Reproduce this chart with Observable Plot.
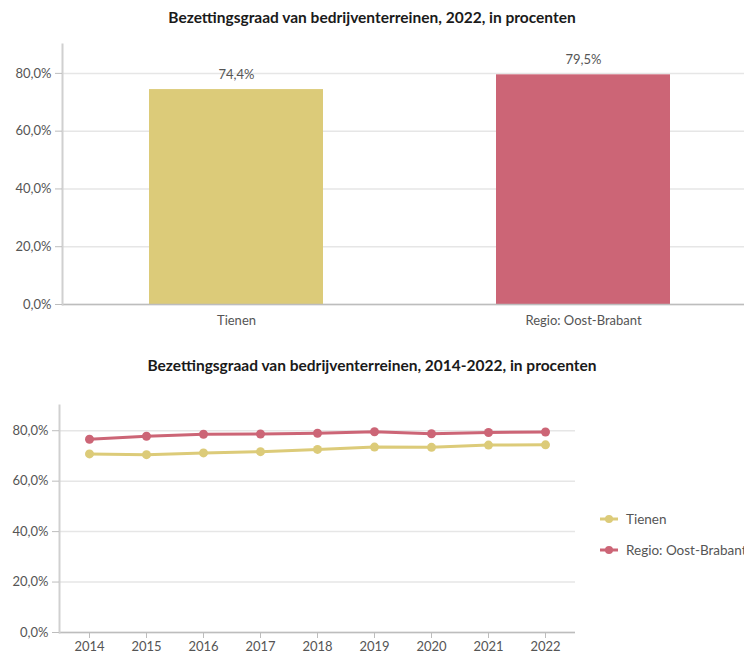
<!DOCTYPE html>
<html>
<head>
<meta charset="utf-8">
<script src="https://cdn.jsdelivr.net/npm/d3@7"></script>
<script src="https://cdn.jsdelivr.net/npm/@observablehq/plot@0.6"></script>
<style>
  html, body { margin: 0; padding: 0; background: #fff; overflow: hidden; width: 744px; height: 652px; }
  body { position: relative; font-family: Lato, "Noto Sans", sans-serif; }
  .title { position: absolute; left: 0; width: 744px; text-align: center; font-weight: bold; font-size: 15.5px; color: #1a1a1a; }
  .chart { position: absolute; left: 0; }
  .legend { position: absolute; left: 600px; font-size: 13.5px; color: #555; white-space: nowrap; }
  .legend div { height: 31px; display: flex; align-items: center; }
  .legend svg { margin-right: 8px; }
</style>
</head>
<body>
<div class="title" style="top:8px">Bezettingsgraad van bedrijventerreinen, 2022, in procenten</div>
<div class="chart" id="c1" style="top:30px"></div>
<div class="title" style="top:356px">Bezettingsgraad van bedrijventerreinen, 2014-2022, in procenten</div>
<div class="chart" id="c2" style="top:390px"></div>
<div class="legend" id="legend" style="top:503px"></div>
<script>
const regions = ["Tienen", "Regio: Oost-Brabant"];
const colors = ["#dccb79", "#cc6576"];
const values2022 = [74.4, 79.5];
const years = [2014, 2015, 2016, 2017, 2018, 2019, 2020, 2021, 2022];
const tienen = [70.8, 70.5, 71.2, 71.7, 72.6, 73.5, 73.4, 74.3, 74.4];
const oostBrabant = [76.6, 77.8, 78.6, 78.7, 79.0, 79.6, 78.8, 79.3, 79.5];
const yTicks = [0, 20, 40, 60, 80];

const fmt = d => d.toFixed(1).replace(".", ",") + "%";
const colorScale = {domain: regions, range: colors};

const bars = regions.map((r, i) => ({region: r, value: values2022[i]}));

const common = {
  style: {fontFamily: "Lato, 'Noto Sans', sans-serif", fontSize: "13px", color: "#555", background: "transparent", maxWidth: "none", overflow: "visible"}
};

const c1 = Plot.plot({
  ...common,
  width: 757, height: 304,
  marginLeft: 62, marginRight: 0, marginTop: 14, marginBottom: 30,
  x: {domain: regions, paddingInner: 0.5, paddingOuter: 0.25, label: null},
  y: {domain: [0, 90], label: null},
  color: colorScale,
  marks: [
    Plot.gridY(yTicks, {stroke: "#e6e6e6", strokeOpacity: 1, strokeWidth: 1.5}),
    Plot.barY(bars, {x: "region", y: "value", fill: "region"}),
    Plot.text(bars, {x: "region", y: "value", text: d => fmt(d.value), dy: -15, fill: "#555", fontSize: 13}),
    Plot.ruleY([0], {stroke: "#bdbdbd", strokeWidth: 1.5}),
    Plot.frame({anchor: "left", stroke: "#d0d0d0", strokeWidth: 2}),
    Plot.axisY(yTicks, {tickFormat: fmt, tickSize: 7, tickPadding: 4, stroke: "#bdbdbd", fill: "#555", label: null}),
    Plot.axisX({tickSize: 0, tickPadding: 11, fill: "#555", label: null})
  ]
});
document.getElementById("c1").append(c1);

const series = [];
years.forEach((y, i) => series.push({year: y, region: regions[0], value: tienen[i]}));
years.forEach((y, i) => series.push({year: y, region: regions[1], value: oostBrabant[i]}));

const c2 = Plot.plot({
  ...common,
  width: 575, height: 272,
  marginLeft: 59, marginRight: 0, marginTop: 15, marginBottom: 30,
  x: {type: "point", domain: years, padding: 0.5, label: null},
  y: {domain: [0, 90], label: null},
  color: colorScale,
  marks: [
    Plot.gridY(yTicks, {stroke: "#e6e6e6", strokeOpacity: 1, strokeWidth: 1.5}),
    Plot.ruleY([0], {stroke: "#bdbdbd", strokeWidth: 1.5}),
    Plot.frame({anchor: "left", stroke: "#d0d0d0", strokeWidth: 2}),
    Plot.line(series, {x: "year", y: "value", stroke: "region", strokeWidth: 3}),
    Plot.dot(series, {x: "year", y: "value", fill: "region", r: 4.5}),
    Plot.axisY(yTicks, {tickFormat: fmt, tickSize: 7, tickPadding: 4, stroke: "#bdbdbd", fill: "#555", label: null}),
    Plot.axisX({tickSize: 6, tickPadding: 3, stroke: "#bdbdbd", fill: "#555", tickFormat: d => String(d), label: null})
  ]
});
document.getElementById("c2").append(c2);

const legend = document.getElementById("legend");
regions.forEach((r, i) => {
  const row = document.createElement("div");
  row.innerHTML = `<svg width="18" height="10"><line x1="0" y1="5" x2="18" y2="5" stroke="${colors[i]}" stroke-width="3"/><circle cx="9" cy="5" r="4" fill="${colors[i]}"/></svg><span>${r}</span>`;
  legend.append(row);
});
</script>
</body>
</html>
